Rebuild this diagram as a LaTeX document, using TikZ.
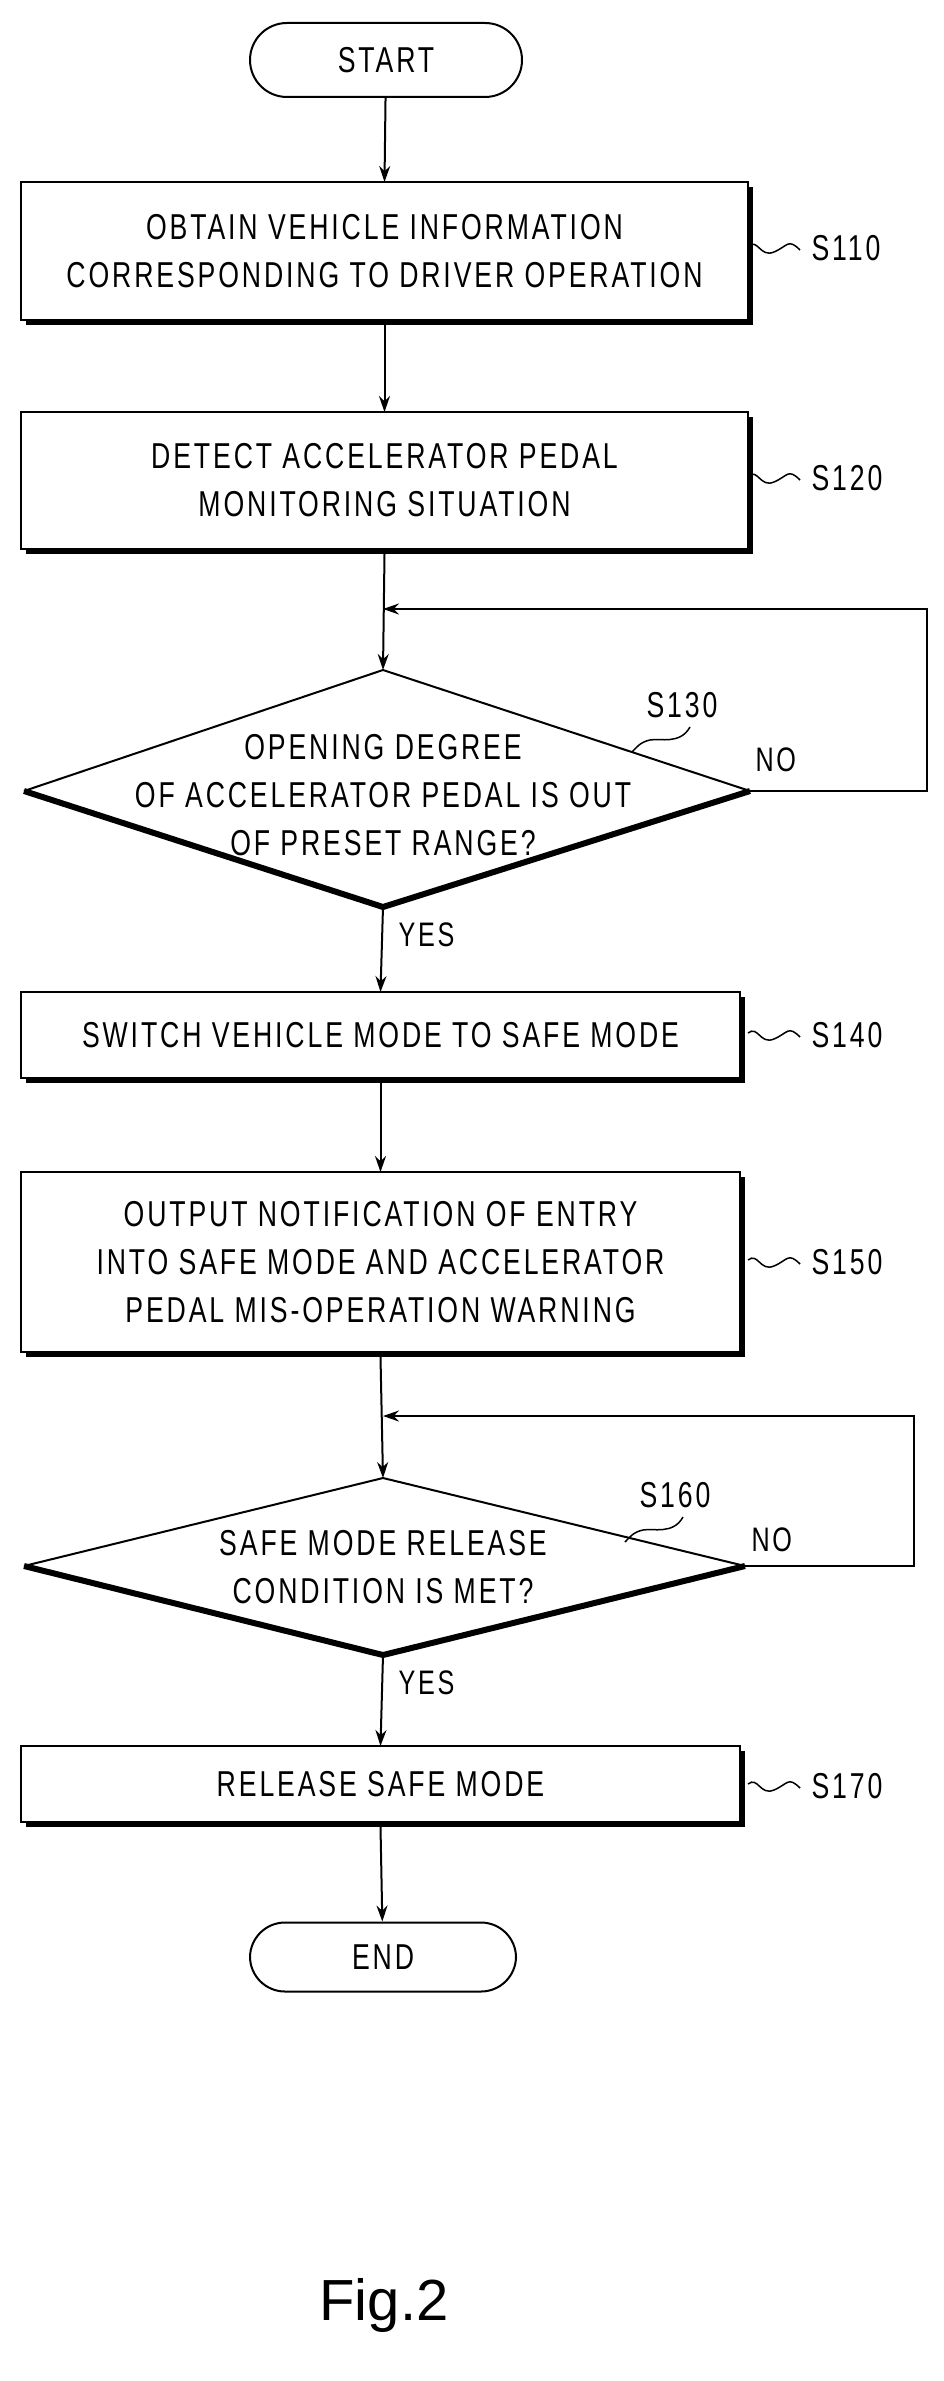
\documentclass[tikz,border=0pt]{standalone}
\usepackage{fontspec}
\newfontfamily\lab[FakeStretch=0.74,LetterSpace=8]{Liberation Sans}
\newfontfamily\sfig{Liberation Sans}
\usetikzlibrary{arrows.meta,shapes.geometric}
\begin{document}
\begin{tikzpicture}[x=1pt,y=-1pt,
  txt/.style={font=\lab\fontsize{36}{48}\selectfont,align=center},
  box/.style={draw,line width=2pt,fill=white},
  arr/.style={line width=2pt,-{Stealth[length=16pt,width=11pt]}},
  ln/.style={line width=2pt},
  sq/.style={line width=1.5pt}]
\useasboundingbox (0,0) rectangle (944,2381);
% terminals
\node[txt,draw,line width=2pt,rounded corners=37pt,minimum width=272pt,minimum height=74pt] (start) at (386,60) {START};
\node[txt,draw,line width=2pt,rounded corners=35pt,minimum width=266pt,minimum height=69pt] (end) at (383,1957) {END};
% boxes with shadow
\newcommand{\pbox}[6]{%
  \fill (#2+5,#3+5) rectangle (#4+5,#5+5);
  \draw[box] (#2,#3) rectangle (#4,#5);
  \node[txt] (#1) at ({(#2+#4)/2},{(#3+#5)/2}) {#6};
  \coordinate (#1t) at ({(#2+#4)/2},#3);
  \coordinate (#1b) at ({(#2+#4)/2},#5+5);
  \coordinate (#1r) at (#4+5,{(#3+#5)/2});}
\pbox{s110}{21}{182}{748}{320}{OBTAIN VEHICLE INFORMATION\\CORRESPONDING TO DRIVER OPERATION}
\pbox{s120}{21}{412}{748}{549}{DETECT ACCELERATOR PEDAL\\MONITORING SITUATION}
\pbox{s140}{21}{992}{740}{1078}{SWITCH VEHICLE MODE TO SAFE MODE}
\pbox{s150}{21}{1172}{740}{1352}{OUTPUT NOTIFICATION OF ENTRY\\INTO SAFE MODE AND ACCELERATOR\\PEDAL MIS-OPERATION WARNING}
\pbox{s170}{21}{1746}{740}{1822}{RELEASE SAFE MODE}
% diamonds
\newcommand{\pdia}[7]{% name, cx, top, mid, bot, left, right
  \coordinate (#1t) at (#2,#3); \coordinate (#1b) at (#2,#5);
  \coordinate (#1l) at (#6,#4); \coordinate (#1r) at (#7,#4);
  \fill[white] (#1t)--(#1r)--(#1b)--(#1l)--cycle;
  \draw[ln] (#1l)--(#1t)--(#1r);
  \draw[line width=6pt,line join=miter] (#1l)--(#1b)--(#1r);}
\pdia{d1}{383}{670}{791}{907}{24}{750}
\node[txt] (s130) at (383,795) {OPENING DEGREE\\OF ACCELERATOR PEDAL IS OUT\\OF PRESET RANGE?};
\pdia{d2}{383}{1478}{1566}{1655}{24}{745}
\node[txt] (s160) at (383,1567) {SAFE MODE RELEASE\\CONDITION IS MET?};
% arrows
\draw[arr] (start) -- (s110t);
\draw[arr] (s110b) -- (s120t);
\draw[arr] (s120b) -- (d1t);
\draw[arr] (d1b) -- (s140t);
\draw[arr] (s140b) -- (s150t);
\draw[arr] (s150b) -- (d2t);
\draw[arr] (d2b) -- (s170t);
\draw[arr] (s170b) -- (end);
% loops
\coordinate (j1) at (383,609); \coordinate (j2) at (383,1416);
\draw[arr] (d1r) -- (927,791) -- (927,609) -- (j1);
\draw[arr] (d2r) -- (914,1566) -- (914,1416) -- (j2);
% yes/no
\node[font=\lab\fontsize{34}{40}\selectfont,anchor=west] (no1) at (752,760) {NO};
\node[font=\lab\fontsize{34}{40}\selectfont,anchor=west] (no2) at (748,1540) {NO};
\node[font=\lab\fontsize{34}{40}\selectfont,anchor=west] (yes1) at (395,935) {YES};
\node[font=\lab\fontsize{34}{40}\selectfont,anchor=west] (yes2) at (395,1683) {YES};
% step labels
\newcommand{\slab}[3]{%
  \node[font=\lab\fontsize{36}{40}\selectfont,anchor=west] (#1) at (#3) {#2};
  \draw[sq] (#1.west) ++(-8,2) .. controls +(-12,-12) and +(14,-6) .. ++(-26,2) .. controls +(-14,6) and +(10,-8) .. ++(-26,-6);}
\slab{l110}{S110}{808,248}
\slab{l120}{S120}{808,478}
\slab{l140}{S140}{808,1035}
\slab{l150}{S150}{808,1262}
\slab{l170}{S170}{808,1786}
\node[font=\lab\fontsize{36}{40}\selectfont] (l130) at (682,705) {S130};
\draw[sq] (690,727) .. controls (680,745) and (660,738) .. (650,740) .. controls (640,742) and (636,748) .. (632,752);
\node[font=\lab\fontsize{36}{40}\selectfont] (l160) at (675,1495) {S160};
\draw[sq] (683,1517) .. controls (673,1535) and (653,1528) .. (643,1530) .. controls (633,1532) and (629,1538) .. (625,1542);
\node[font=\sfig\fontsize{58}{60}\selectfont] (fig) at (384,2305) {Fig.2};
\end{tikzpicture}
\end{document}
